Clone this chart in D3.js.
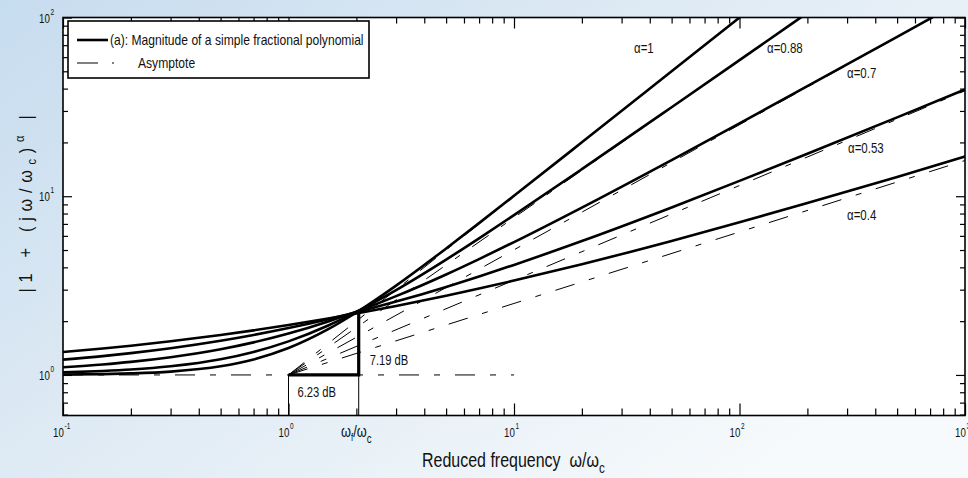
<!DOCTYPE html>
<html>
<head>
<meta charset="utf-8">
<script src="https://cdn.jsdelivr.net/npm/d3@7"></script>
<style>
html,body{margin:0;padding:0;overflow:hidden;}
svg{display:block;}
text{font-family:"Liberation Sans",Arial,Helvetica,sans-serif;fill:#111;white-space:pre;}
</style>
</head>
<body>
<svg id="chart" width="968" height="478"></svg>
<script>
// ---------- data ----------
const freq = [0.1,0.15,0.2,0.3,0.5,0.7,1,1.5,2,3,5,7,10,20,50,100,200,500,1000];
const alphas = [1, 0.88, 0.7, 0.53, 0.4];
const alphaLabels = ["α=1","α=0.88","α=0.7","α=0.53","α=0.4"];
const mag_a1   = [1.005,1.011,1.020,1.044,1.118,1.221,1.414,1.803,2.236,3.162,5.099,7.071,10.05,20.02,50.01,100.0,200.0,500.0,1000];
const mag_a088 = [1.033,1.052,1.072,1.118,1.224,1.345,1.541,1.891,2.253,2.983,4.420,5.813,7.835,14.18,31.47,57.74,106.1,237.3,436.6];
const mag_a07  = [1.105,1.145,1.183,1.256,1.392,1.521,1.705,1.993,2.261,2.760,3.650,4.449,5.538,8.642,15.94,25.59,41.27,77.96,126.4];
const mag_a053 = [1.218,1.275,1.325,1.411,1.553,1.673,1.829,2.051,2.243,2.572,3.109,3.556,4.128,5.615,8.656,12.18,17.27,27.63,39.59];
const mag_a04  = [1.343,1.406,1.458,1.543,1.674,1.776,1.902,2.070,2.208,2.433,2.776,3.044,3.373,4.165,5.622,7.143,9.153,12.83,16.67];
const magnitudes = [mag_a1, mag_a088, mag_a07, mag_a053, mag_a04];
// asymptotes: straight lines in log-log from (1,1) to (1000, end)
const asymX = [1, 1000];
const asymEnd = [1000, 436.5, 125.9, 38.90, 15.85];
const lowAsymX = [0.1, 10];
const lowAsymY = 1;
// annotation values
const wRatio = 2.048;       // ωf/ωc  (6.23 dB)
const levelAtRatio = 2.288; // 7.19 dB
const dbLabels = ["6.23 dB", "7.19 dB"];
// axis ticks
const xMajor = [0.1, 1, 10, 100, 1000];
const xExp = ["-1","0","1","2","3"];
const yMajor = [1, 10, 100];
const yExp = ["0","1","2"];
const legendLabels = ["(a): Magnitude of a simple fractional polynomial", "Asymptote"];

// ---------- layout ----------
const svg = d3.select("#chart");
const L = 63, R = 965, T = 17.5, B = 415.5;
const x = d3.scaleLog().domain([0.1, 1000]).range([L, R]);
const y = d3.scaleLog().domain([0.593, 100]).range([B, T]);

// condensed text helper
function ctext(parent, px, py, size, sx, anchor){
  return parent.append("text")
    .attr("transform",`translate(${px},${py}) scale(${sx},1)`)
    .attr("font-size",size).attr("text-anchor",anchor||"start");
}

// background
const defs = svg.append("defs");
const grad = defs.append("linearGradient").attr("id","bg").attr("x1","0").attr("y1","0").attr("x2","1").attr("y2","0.7");
grad.append("stop").attr("offset","0").attr("stop-color","#c6dcef");
grad.append("stop").attr("offset","0.4").attr("stop-color","#dbe8f3");
grad.append("stop").attr("offset","1").attr("stop-color","#f7fafc");
svg.append("rect").attr("width",968).attr("height",478).attr("fill","url(#bg)");
defs.append("clipPath").attr("id","clip").append("rect")
  .attr("x",L).attr("y",T).attr("width",R-L).attr("height",B-T);

svg.append("rect").attr("x",L).attr("y",T).attr("width",R-L).attr("height",B-T).attr("fill","#fff");

// minor ticks
function minorTicks(lo, hi){
  const out=[];
  for(let e=Math.floor(Math.log10(lo)); e<=Math.ceil(Math.log10(hi)); e++){
    for(let k=2;k<=9;k++){ const v=k*Math.pow(10,e); if(v>lo && v<hi) out.push(v); }
  }
  return out;
}
const xMinor = minorTicks(0.1, 1000);
const yMinor = minorTicks(0.593, 100);

function styleAxis(g){ g.select(".domain").remove(); g.selectAll("line").attr("stroke","#000").attr("stroke-width",1.2); g.selectAll("text").remove(); }
svg.append("g").attr("transform",`translate(0,${B})`).call(d3.axisBottom(x).tickValues(xMajor).tickSize(-12).tickFormat("")).call(styleAxis);
svg.append("g").attr("transform",`translate(0,${B})`).call(d3.axisBottom(x).tickValues(xMinor).tickSize(-7).tickFormat("")).call(styleAxis);
svg.append("g").attr("transform",`translate(0,${T})`).call(d3.axisTop(x).tickValues(xMajor).tickSize(-11).tickFormat("")).call(styleAxis);
svg.append("g").attr("transform",`translate(0,${T})`).call(d3.axisTop(x).tickValues(xMinor).tickSize(-6).tickFormat("")).call(styleAxis);
svg.append("g").attr("transform",`translate(${L},0)`).call(d3.axisLeft(y).tickValues(yMajor).tickSize(-9).tickFormat("")).call(styleAxis);
svg.append("g").attr("transform",`translate(${L},0)`).call(d3.axisLeft(y).tickValues(yMinor).tickSize(-5).tickFormat("")).call(styleAxis);
svg.append("g").attr("transform",`translate(${R},0)`).call(d3.axisRight(y).tickValues(yMajor).tickSize(-9).tickFormat("")).call(styleAxis);
svg.append("g").attr("transform",`translate(${R},0)`).call(d3.axisRight(y).tickValues(yMinor).tickSize(-5).tickFormat("")).call(styleAxis);

// tick labels
xMajor.forEach((v,i)=>{
  const t = ctext(svg, x(v)-10, 437, 13.5, 0.72);
  t.append("tspan").text("10");
  t.append("tspan").attr("dy",-8).attr("dx",1).attr("font-size",9).text(xExp[i]);
});
yMajor.forEach((v,i)=>{
  const t = ctext(svg, 39, y(v)+5, 13.5, 0.72);
  t.append("tspan").text("10");
  t.append("tspan").attr("dy",-8).attr("dx",1).attr("font-size",9).text(yExp[i]);
});
// ωf/ωc tick label
{
  const t = ctext(svg, 341, 437, 16, 0.8);
  t.append("tspan").text("ω");
  t.append("tspan").attr("dy",4).attr("font-size",10).text("f");
  t.append("tspan").attr("dy",-4).text("/ω");
  t.append("tspan").attr("dy",6).attr("font-size",12).text("c");
}

// axis titles
{
  const t = ctext(svg, 422, 467, 20.5, 0.78);
  t.append("tspan").text("Reduced frequency  ω/ω");
  t.append("tspan").attr("dy",6).attr("font-size",15).text("c");
}
{
  const t = svg.append("text").attr("transform","translate(32,201) rotate(-90) scale(0.85,1)").attr("text-anchor","middle").attr("font-size",19).attr("letter-spacing",6.8);
  t.append("tspan").text("|1 + (jω/ω");
  t.append("tspan").attr("dy",4).attr("font-size",13).text("c");
  t.append("tspan").attr("dy",-4).text(")");
  t.append("tspan").attr("dy",-8).attr("font-size",13).text("α");
  t.append("tspan").attr("dy",8).text(" |");
}

// plot content
const plot = svg.append("g").attr("clip-path","url(#clip)");
const dashPat = "20,15,6,15";
// asymptotes
plot.append("path")
  .attr("d", d3.line().x(d=>x(d)).y(()=>y(lowAsymY))(lowAsymX))
  .attr("fill","none").attr("stroke","#000").attr("stroke-width",1).attr("stroke-dasharray",dashPat);
asymEnd.forEach((e,i)=>{
  const pts = [[asymX[0],1],[asymX[1],e]];
  plot.append("path").attr("d", d3.line().x(d=>x(d[0])).y(d=>y(d[1]))(pts))
    .attr("fill","none").attr("stroke","#000").attr("stroke-width",1).attr("stroke-dasharray",dashPat);
});
// curves
const line = d3.line().x((d,i)=>x(freq[i])).y(d=>y(d)).curve(d3.curveMonotoneX);
magnitudes.forEach(m=>{
  plot.append("path").attr("d", line(m)).attr("fill","none").attr("stroke","#000").attr("stroke-width",2.6);
});

// annotation lines
plot.append("line").attr("x1",x(1)).attr("x2",x(1)).attr("y1",y(1)).attr("y2",B).attr("stroke","#000").attr("stroke-width",1);
plot.append("line").attr("x1",x(wRatio)).attr("x2",x(wRatio)).attr("y1",y(1)).attr("y2",B).attr("stroke","#000").attr("stroke-width",1);
plot.append("path").attr("d", d3.line().x(d=>x(d[0])).y(d=>y(d[1]))([[1,1],[wRatio,1],[wRatio,levelAtRatio]]))
  .attr("fill","none").attr("stroke","#000").attr("stroke-width",3.2);
ctext(svg, x(1)+9, y(1)+22, 14, 0.8).text(dbLabels[0]);
ctext(svg, x(wRatio)+11, y(1)-10, 14, 0.8).text(dbLabels[1]);

// alpha labels
const alphaPos = [[634,53],[767,53],[847,78],[848,153],[847,220]];
alphaLabels.forEach((s,i)=>{
  ctext(svg, alphaPos[i][0], alphaPos[i][1], 14, 0.82).text(s);
});

// frame
svg.append("rect").attr("x",L).attr("y",T).attr("width",R-L).attr("height",B-T).attr("fill","none").attr("stroke","#000").attr("stroke-width",1.6);

// legend
const lg = svg.append("g");
lg.append("rect").attr("x",68).attr("y",21).attr("width",301).attr("height",57).attr("fill","#fff").attr("stroke","#000").attr("stroke-width",1.6);
lg.append("line").attr("x1",77).attr("x2",108).attr("y1",40).attr("y2",40).attr("stroke","#000").attr("stroke-width",2.6);
lg.append("line").attr("x1",77).attr("x2",116).attr("y1",63).attr("y2",63).attr("stroke","#000").attr("stroke-width",1).attr("stroke-dasharray","21,14,2,14");
ctext(lg, 110, 45, 14, 0.865).text(legendLabels[0]);
ctext(lg, 138, 68, 14, 0.865).text(legendLabels[1]);
</script>
</body>
</html>
